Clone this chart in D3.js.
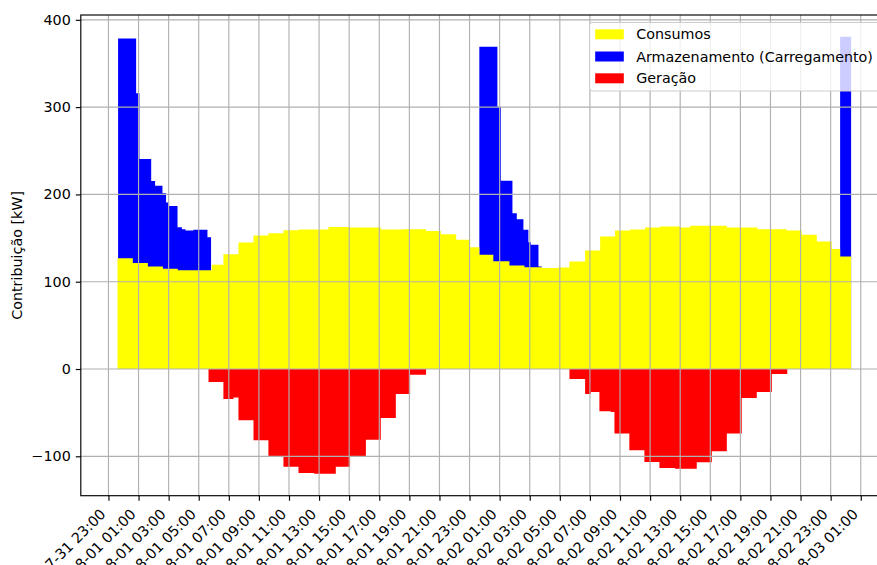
<!DOCTYPE html>
<html><head><meta charset="utf-8">
<script src="https://cdn.jsdelivr.net/npm/d3@7"></script>
<style>
body{margin:0;background:#fff;}
svg{display:block;font-family:'DejaVu Sans',sans-serif;}
</style>
</head><body>
<svg id="chart" width="877" height="565"></svg>
<script>
// All times are hours since 2025-08-01 00:00
const baseDate = new Date(2025, 7, 1, 0, 0);

// Consumos (kW): step edges and values
const consumoEdges = [-0.4, 0.62, 1.62, 2.62, 3.61, 5.87, 6.64, 7.64, 8.64, 9.63,
  10.63, 11.63, 13.62, 15.02, 17.1, 18.6, 20.11, 21.09, 22.11, 23.04,
  23.65, 24.58, 25.65, 26.65, 27.82, 28.88, 29.64, 30.68, 31.68, 32.67,
  33.67, 34.67, 35.66, 36.99, 37.66, 40.1, 42.13, 44.08, 45.08, 46.08,
  47.07, 47.63, 48.36];
const consumoValues = [127, 121.3, 117.4, 114.8, 113, 119.3, 131.6, 144.9, 152.9, 155.6,
  159, 159.7, 162.8, 162.2, 159.7, 160, 158.2, 154.4, 148, 139.6,
  130.8, 123.5, 118.5, 116.5, 115.6, 116.3, 123.1, 135.7, 151.7, 158.6,
  159.7, 162, 163.2, 162, 164, 162, 160.2, 158.6, 153.7, 146,
  137.6, 128.8];

// Armazenamento (Carregamento) (kW), stacked on Consumos
const armazEdges = [-0.36, 0.84, 1.06, 1.84, 2.1, 2.59, 2.83, 3.03, 3.59, 3.88, 4.12, 4.65, 5.58, 5.82,
  23.65, 24.85, 25.08, 25.85, 26.14, 26.58, 26.91, 27.07, 27.58, 27.8,
  47.63, 48.36];
const armazValues = [251.7, 194.5, 119.3, 98, 92.6, 86.6, 75.8, 72, 49.5, 47.2, 45.6, 46.4, 38,
  0,
  238.3, 177, 92.3, 60, 53.1, 42.9, 28.8, 25.7, 0.9,
  0,
  251.7];

// Geração (kW, negative)
const geracaoEdges = [5.65, 6.64, 7.31, 7.64, 8.64, 9.63, 10.63, 11.63, 12.67, 14.11, 15.06, 16.11, 17.1, 18.1, 19.05, 20.11,
  29.64, 30.68, 31.06, 31.63, 32.39, 32.63, 33.62, 34.62, 35.62, 36.66, 38.1, 39.1, 40.1, 41.09, 42.09, 43.09, 44.12];
const geracaoValues = [-14.9, -34.3, -32.5, -58.8, -81.7, -100, -112.1, -119, -120.1, -112.1, -100, -80.9, -56.1, -28.6, -6.5,
  0,
  -11.5, -28.6, -26.3, -48.5, -49.2, -74, -93.1, -106.4, -113.3, -114.4, -106.8, -94.3, -74, -33.2, -26.3, -5.7];

const xTickHours = d3.range(-1, 50, 2);   // 07-31 23:00 ... 08-03 01:00
const yTicks = [-100, 0, 100, 200, 300, 400];
const seriesNames = ["Consumos", "Armazenamento (Carregamento)", "Geração"];
const seriesColors = ["#ffff00", "#0000ff", "#ff0000"];
const yLabel = "Contribuição [kW]";

const hToDate = h => new Date(baseDate.getTime() + h * 3600e3);
const consumoAt = h => {
  const i = Math.max(0, Math.min(consumoValues.length - 1, d3.bisectRight(consumoEdges, h) - 1));
  return consumoValues[i];
};

const L = 80.8, R = 887.8, T = 15, B = 495.7;
const fs = 14.3;
const tk = 5.0, lw = 1.15;

// domains with 5% margins, like matplotlib
const xmin = Math.min(consumoEdges[0], armazEdges[0], geracaoEdges[0]);
const xmax = Math.max(consumoEdges.at(-1), armazEdges.at(-1), geracaoEdges.at(-1));
const xm = (xmax - xmin) * 0.05;
const x = d3.scaleTime().domain([hToDate(xmin - xm), hToDate(xmax + xm)]).range([L, R]);

const tops = armazValues.map((v, i) => v > 0 ? consumoAt((armazEdges[i] + armazEdges[i + 1]) / 2) + v : 0);
const ymin = Math.min(0, d3.min(geracaoValues));
const ymax = Math.max(d3.max(consumoValues), d3.max(tops));
const ym = (ymax - ymin) * 0.05;
const y = d3.scaleLinear().domain([ymin - ym, ymax + ym]).range([B, T]);

const svg = d3.select("#chart");
const plot = svg.append("g");

function stepPath(edges, yTop, yBot) {
  const p = d3.path();
  for (let i = 0; i < edges.length - 1; i++) {
    const t = yTop(i), b = yBot(i);
    if (t === null) continue;
    const x0 = x(hToDate(edges[i])), x1 = x(hToDate(edges[i + 1]));
    p.rect(x0, Math.min(t, b), x1 - x0, Math.abs(b - t));
  }
  return p.toString();
}

// Armazenamento (stacked on consumption): drawn under consumption bars
plot.append("path")
  .attr("d", stepPath(armazEdges, i => armazValues[i] > 0 ? y(tops[i]) : null, i => y(0)))
  .attr("fill", seriesColors[1]);
// Consumos
plot.append("path")
  .attr("d", stepPath(consumoEdges, i => y(consumoValues[i]), i => y(0)))
  .attr("fill", seriesColors[0]);
// Geração
plot.append("path")
  .attr("d", stepPath(geracaoEdges, i => geracaoValues[i] < 0 ? y(geracaoValues[i]) : null, i => y(0)))
  .attr("fill", seriesColors[2]);

// grid
const grid = svg.append("g").attr("stroke", "#b0b0b0").attr("stroke-width", lw);
xTickHours.forEach(h => {
  const px = x(hToDate(h));
  grid.append("line").attr("x1", px).attr("x2", px).attr("y1", T).attr("y2", B);
});
yTicks.forEach(v => {
  grid.append("line").attr("x1", L).attr("x2", R).attr("y1", y(v)).attr("y2", y(v));
});

// axes using d3 axis generators
const fmt = d3.timeFormat("%m-%d %H:%M");
const xAxis = d3.axisBottom(x).tickValues(xTickHours.map(hToDate)).tickFormat(fmt).tickSize(tk).tickPadding(tk);
const gx = svg.append("g").attr("transform", `translate(0,${B})`).call(xAxis);
gx.select(".domain").remove();
gx.selectAll(".tick line").attr("stroke", "#000").attr("stroke-width", lw);
gx.selectAll(".tick text")
  .attr("font-size", fs).attr("font-family", "DejaVu Sans").attr("fill", "#000")
  .attr("text-anchor", "end")
  .attr("dy", null).attr("y", null)
  .attr("transform", "translate(-2.4,19.4) rotate(-45)");

const yAxis = d3.axisLeft(y).tickValues(yTicks).tickFormat(d3.format("d")).tickSize(tk).tickPadding(tk);
const gy = svg.append("g").attr("transform", `translate(${L},0)`).call(yAxis);
gy.select(".domain").remove();
gy.selectAll(".tick line").attr("stroke", "#000").attr("stroke-width", lw);
gy.selectAll(".tick text").attr("font-size", fs).attr("font-family", "DejaVu Sans").attr("fill", "#000");

// spines
const sp = svg.append("g").attr("stroke", "#000").attr("stroke-width", lw).attr("fill", "none");
sp.append("rect").attr("x", L).attr("y", T).attr("width", R - L).attr("height", B - T);

// y label
svg.append("text").attr("transform", `translate(17.2,${(T + B) / 2}) rotate(-90)`)
  .attr("text-anchor", "middle").attr("dominant-baseline", "central")
  .attr("font-size", fs).attr("fill", "#000").text(yLabel);

// legend
const lg = svg.append("g");
lg.append("rect").attr("x", 589.5).attr("y", 22.5).attr("width", 291.5).attr("height", 68.5)
  .attr("rx", 2.9).attr("fill", "#fff").attr("fill-opacity", 0.8).attr("stroke", "#cccccc").attr("stroke-width", 1);
const rows = [34.3, 56.5, 78.3];
seriesNames.forEach((n, i) => {
  lg.append("rect").attr("x", 595.2).attr("y", rows[i] - 5).attr("width", 28.6).attr("height", 10)
    .attr("fill", seriesColors[i]);
  lg.append("text").attr("x", 636.2).attr("y", rows[i]).attr("dominant-baseline", "central")
    .attr("font-size", fs).attr("fill", "#000").text(n);
});
</script>
</body></html>
